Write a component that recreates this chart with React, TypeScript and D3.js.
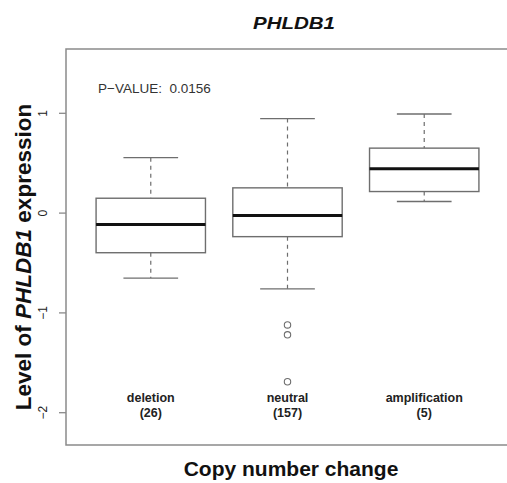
import React from "react";
import * as d3 from "d3";

const categories = ["deletion", "neutral", "amplification"];
const counts = ["(26)", "(157)", "(5)"];
const lowerWhisker = [-0.651, -0.759, 0.116];
const q1 = [-0.397, -0.236, 0.216];
const median = [-0.113, -0.025, 0.444];
const q3 = [0.149, 0.253, 0.651];
const upperWhisker = [0.555, 0.947, 0.993];
const outliers: [number, number][] = [
  [1, -1.12],
  [1, -1.22],
  [1, -1.69],
];
const yTicks = [-2, -1, 0, 1];

export default function App() {
  const W = 507, H = 483;
  const x = d3.scaleLinear().domain([0.38, 3.62]).range([66, 509]);
  const y = d3.scaleLinear().domain([-2, 1]).range([412.7, 113.3]);
  const plotTop = 49, plotBottom = 445, plotLeft = 66, plotRight = 509;
  const unit = x(2) - x(1);
  const boxW = 0.8 * unit;
  const capW = 0.4 * unit;
  const lineCol = "#6e6e6e";
  const font = "Liberation Sans, Arial, sans-serif";

  return (
    <svg width={W} height={H} style={{ position: "absolute", left: 0, top: 0, background: "#fff" }} fontFamily={font}>
      <rect x={0} y={0} width={W} height={H} fill="#fff" />
      {/* plot frame */}
      <rect x={plotLeft} y={plotTop} width={plotRight - plotLeft} height={plotBottom - plotTop} fill="none" stroke="#8a8a8a" strokeWidth={1.5} />
      {/* y axis ticks */}
      {yTicks.map((t) => (
        <g key={t}>
          <line x1={plotLeft - 7} x2={plotLeft} y1={y(t)} y2={y(t)} stroke="#8a8a8a" strokeWidth={1.3} />
          <text transform={`translate(47,${y(t)}) rotate(-90)`} textAnchor="middle" fontSize={12} fill="#222">
            {t < 0 ? "\u2212" + Math.abs(t) : String(t)}
          </text>
        </g>
      ))}
      {/* boxes */}
      {categories.map((c, i) => {
        const cx = x(i + 1);
        return (
          <g key={c}>
            <line x1={cx} x2={cx} y1={y(upperWhisker[i])} y2={y(q3[i])} stroke={lineCol} strokeWidth={1.2} strokeDasharray="4,4" />
            <line x1={cx} x2={cx} y1={y(q1[i])} y2={y(lowerWhisker[i])} stroke={lineCol} strokeWidth={1.2} strokeDasharray="4,4" />
            <line x1={cx - capW / 2} x2={cx + capW / 2} y1={y(upperWhisker[i])} y2={y(upperWhisker[i])} stroke={lineCol} strokeWidth={1.3} />
            <line x1={cx - capW / 2} x2={cx + capW / 2} y1={y(lowerWhisker[i])} y2={y(lowerWhisker[i])} stroke={lineCol} strokeWidth={1.3} />
            <rect x={cx - boxW / 2} y={y(q3[i])} width={boxW} height={y(q1[i]) - y(q3[i])} fill="#fff" stroke={lineCol} strokeWidth={1.4} />
            <line x1={cx - boxW / 2} x2={cx + boxW / 2} y1={y(median[i])} y2={y(median[i])} stroke="#111" strokeWidth={3} />
            <text x={cx} y={402} textAnchor="middle" fontSize={12.5} fontWeight="bold" fill="#222">{c}</text>
            <text x={cx} y={417} textAnchor="middle" fontSize={12.5} fontWeight="bold" fill="#222">{counts[i]}</text>
          </g>
        );
      })}
      {outliers.map(([g, v], i) => (
        <circle key={i} cx={x(g + 1)} cy={y(v)} r={3.2} fill="none" stroke={lineCol} strokeWidth={1.1} />
      ))}
      {/* p-value */}
      <text x={98} y={93} fontSize={13.5} fill="#333" style={{ whiteSpace: "pre" }}>{"P\u2212VALUE:  0.0156"}</text>
      {/* title */}
      <text x={294} y={29} textAnchor="middle" fontSize={17} fontWeight="bold" fontStyle="italic" fill="#111" textLength={82} lengthAdjust="spacingAndGlyphs">PHLDB1</text>
      {/* x title */}
      <text x={291} y={476} textAnchor="middle" fontSize={21} fontWeight="bold" fill="#111">Copy number change</text>
      {/* y title */}
      <text transform="translate(31,257) rotate(-90)" textAnchor="middle" fontSize={22.5} fontWeight="bold" fill="#111">
        Level of <tspan fontStyle="italic">PHLDB1</tspan> expression
      </text>
    </svg>
  );
}
